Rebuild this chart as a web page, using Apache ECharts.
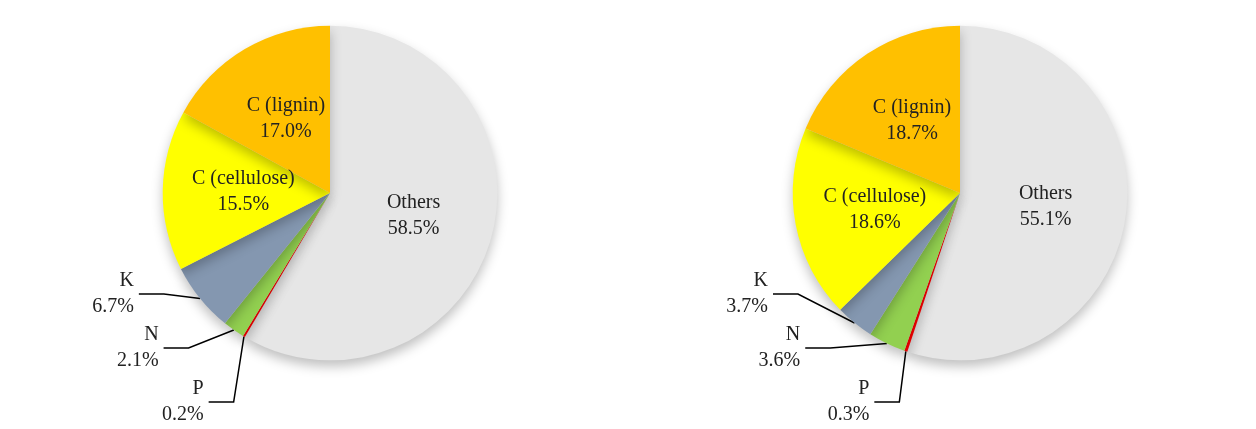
<!DOCTYPE html>
<html><head><meta charset="utf-8">
<script src="https://cdn.jsdelivr.net/npm/echarts@6/dist/echarts.min.js"></script>
<style>html,body{margin:0;background:#fff}#c{width:1256px;height:429px}</style>
</head><body><div id="c"></div>
<script>
var names = ['Others', 'P', 'N', 'K', 'C (cellulose)', 'C (lignin)']
var leftValues = [58.5, 0.2, 2.1, 6.7, 15.5, 17.0]
var rightValues = [55.1, 0.3, 3.6, 3.7, 18.6, 18.7]
var colors = ['#e6e6e6', '#ff0000', '#92d050', '#8497b0', '#ffff00', '#ffc000']
var small = { 'P': 1, 'N': 1, 'K': 1 }

var chart = echarts.init(document.getElementById('c'))

function makeData(vals) {
  return names.map(function (n, i) {
    var d = { name: n, value: vals[i], itemStyle: { color: colors[i] } }
    if (small[n]) {
      d.label = { position: 'outside' }
      d.labelLine = { show: true, length: 20, length2: 25, lineStyle: { color: '#000', width: 1.5 } }
    } else {
      d.label = { position: 'inside' }
      d.labelLine = { show: false }
    }
    return d
  })
}

function makeSeries(vals, cx) {
  return {
    type: 'pie',
    center: [cx, '45%'],
    radius: '78%',
    startAngle: 90,
    clockwise: true,
    avoidLabelOverlap: true,
    silent: true,
    itemStyle: { borderColor: '#fff', borderWidth: 0, shadowBlur: 12, shadowColor: 'rgba(0,0,0,0.25)', shadowOffsetY: 6 },
    label: {
      formatter: function (p) { return p.name + '\n' + p.value.toFixed(1) + '%' },
      fontFamily: 'Liberation Serif',
      fontSize: 20,
      color: '#222',
      lineHeight: 26
    },
    data: makeData(vals)
  }
}

chart.setOption({
  animation: false,
  series: [makeSeries(leftValues, 330), makeSeries(rightValues, 960)]
})
</script></body></html>
